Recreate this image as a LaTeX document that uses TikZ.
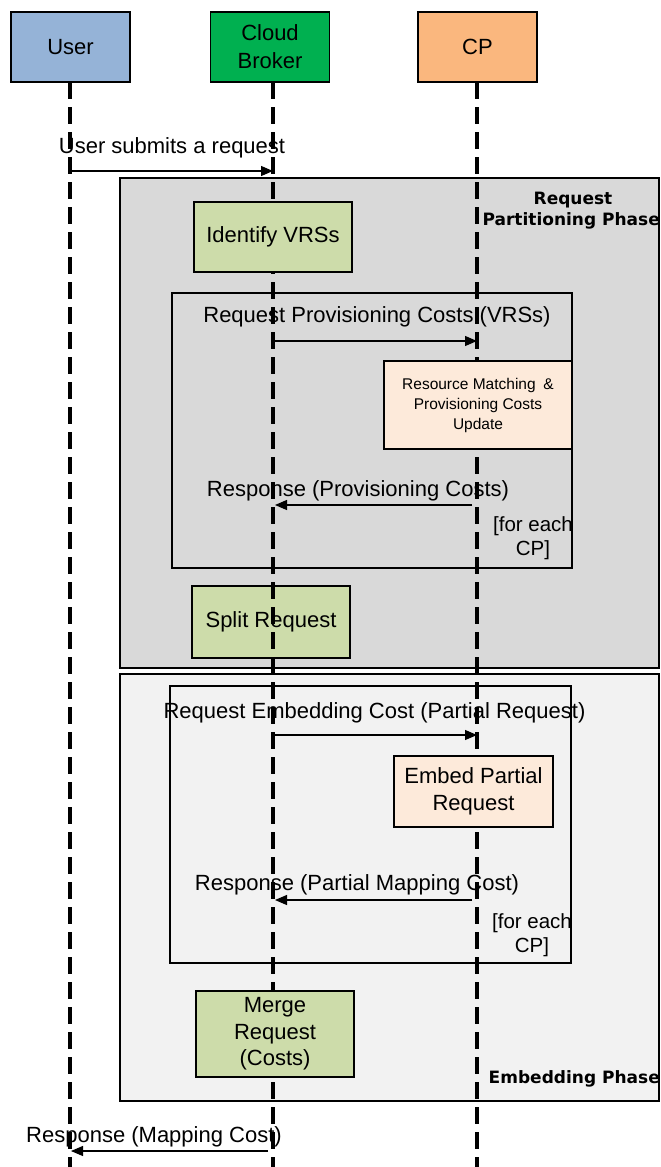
\documentclass[tikz,border=0pt]{standalone}
\usepackage{fontspec}
\setmainfont{Liberation Sans}
\newfontfamily\phasefont{DejaVu Sans}
\usetikzlibrary{arrows.meta}

\definecolor{userblue}{RGB}{149,179,215}
\definecolor{brokergreen}{RGB}{0,176,80}
\definecolor{cporange}{RGB}{250,183,126}
\definecolor{actgreen}{RGB}{205,220,170}
\definecolor{cppeach}{RGB}{253,234,218}
\definecolor{phaseone}{RGB}{217,217,217}
\definecolor{phasetwo}{RGB}{242,242,242}

\tikzset{
  actor/.style={draw=black, line width=1.4pt, minimum width=119pt, minimum height=70pt,
    inner sep=0pt, align=center, font=\fontsize{22}{28}\selectfont},
  lifeline/.style={line width=3.5pt, dash pattern=on 17pt off 8pt},
  phasebox/.style={draw=black, line width=1.4pt, inner sep=0pt},
  loopbox/.style={draw=black, line width=1.4pt, inner sep=0pt},
  activity/.style={draw=black, line width=1.4pt, inner sep=0pt, align=center,
    font=\fontsize{22}{26.5}\selectfont},
  msg/.style={line width=1.2pt, -{Triangle[length=12pt,width=10pt]}},
  msglabel/.style={anchor=base, inner sep=0pt, font=\fontsize{22}{26}\selectfont},
  guard/.style={anchor=base, inner sep=0pt, align=center, font=\fontsize{20.5}{24}\selectfont},
  phaselabel/.style={anchor=base, inner sep=0pt, font=\phasefont\bfseries\fontsize{17}{21}\selectfont},
}

\begin{document}
\begin{tikzpicture}[x=1pt, y=-1pt]
\useasboundingbox (0,0) rectangle (661,1167);

% phase frames
\node[phasebox, fill=phaseone, minimum width=539pt, minimum height=490pt] (partition) at (389.5,423) {};
\node[phasebox, fill=phasetwo, minimum width=539pt, minimum height=427pt] (embedding) at (389.5,887.5) {};
\node[phaselabel] (partitionA) at (573,204) {Request};
\node[phaselabel, anchor=base east] (partitionB) at (660,225) {Partitioning Phase};
\node[phaselabel, anchor=base east] (embedlbl) at (660,1083) {Embedding Phase};

% loop frames
\node[loopbox, minimum width=400pt, minimum height=275pt] (loopA) at (372,430.5) {};
\node[loopbox, minimum width=401pt, minimum height=277pt] (loopB) at (370.5,824.5) {};

% split step sits under the broker lifeline
\node[activity, fill=actgreen, minimum width=158pt, minimum height=72pt] (split) at (271,622) {Split Request};

% participants and lifelines
\node[actor, fill=userblue] (user) at (70.5,47) {User};
\node[actor, fill=brokergreen] (broker) at (270,47) {Cloud\\Broker};
\node[actor, fill=cporange] (cp) at (477.5,47) {CP};

\coordinate (userEnd) at (70,1167);
\coordinate (brokerEnd) at (273,1167);
\coordinate (cpEnd) at (477,1167);
\coordinate (userTop) at (70,82);
\coordinate (brokerTop) at (273,82);
\coordinate (cpTop) at (477,82);
\draw[lifeline] (userTop) -- (userEnd);
\draw[lifeline] (brokerTop) -- (brokerEnd);
\draw[lifeline] (cpTop) -- (cpEnd);

% activities covering the lifelines
\node[activity, fill=actgreen, minimum width=158pt, minimum height=70pt] (identify) at (273,237) {Identify VRSs};
\node[activity, fill=cppeach, minimum width=188pt, minimum height=88pt,
  font=\fontsize{15.5}{20}\selectfont] (match) at (478,405)
  {Resource Matching\enspace\&\\Provisioning Costs\\Update};
\node[activity, fill=cppeach, minimum width=159pt, minimum height=71pt] (embed) at (473.5,791.5) {Embed Partial\\Request};
\node[activity, fill=actgreen, minimum width=158pt, minimum height=86pt] (merge) at (275,1034) {Merge\\Request\\(Costs)};

% message end points on the lifelines
\coordinate (m1s) at (70,171);   \coordinate (m1e) at (273,171);
\coordinate (m2s) at (273,341);  \coordinate (m2e) at (477,341);
\coordinate (m3s) at (472,505);  \coordinate (m3e) at (275,505);
\coordinate (m4s) at (273,735);  \coordinate (m4e) at (477,735);
\coordinate (m5s) at (472,900);  \coordinate (m5e) at (275,900);
\coordinate (m6s) at (268,1151); \coordinate (m6e) at (71,1151);

\draw[msg] (m1s) -- (m1e);
\draw[msg] (m2s) -- (m2e);
\draw[msg] (m3s) -- (m3e);
\draw[msg] (m4s) -- (m4e);
\draw[msg] (m5s) -- (m5e);
\draw[msg] (m6s) -- (m6e);

% message labels
\node[msglabel] (l1) at (172,153) {User submits a request};
\node[msglabel] (l2) at (377,322) {Request Provisioning Costs (VRSs)};
\node[msglabel] (l3) at (358,496) {Response (Provisioning Costs)};
\node[msglabel] (l4) at (374.5,718) {Request Embedding Cost (Partial Request)};
\node[msglabel] (l5) at (357,890) {Response (Partial Mapping Cost)};
\node[msglabel] (l6) at (154,1142) {Response (Mapping Cost)};

% loop guards
\node[guard] (gA1) at (533,531) {[for each};
\node[guard] (gA2) at (533,555) {CP]};
\node[guard] (gB1) at (532,928) {[for each};
\node[guard] (gB2) at (532,952) {CP]};
\end{tikzpicture}
\end{document}
